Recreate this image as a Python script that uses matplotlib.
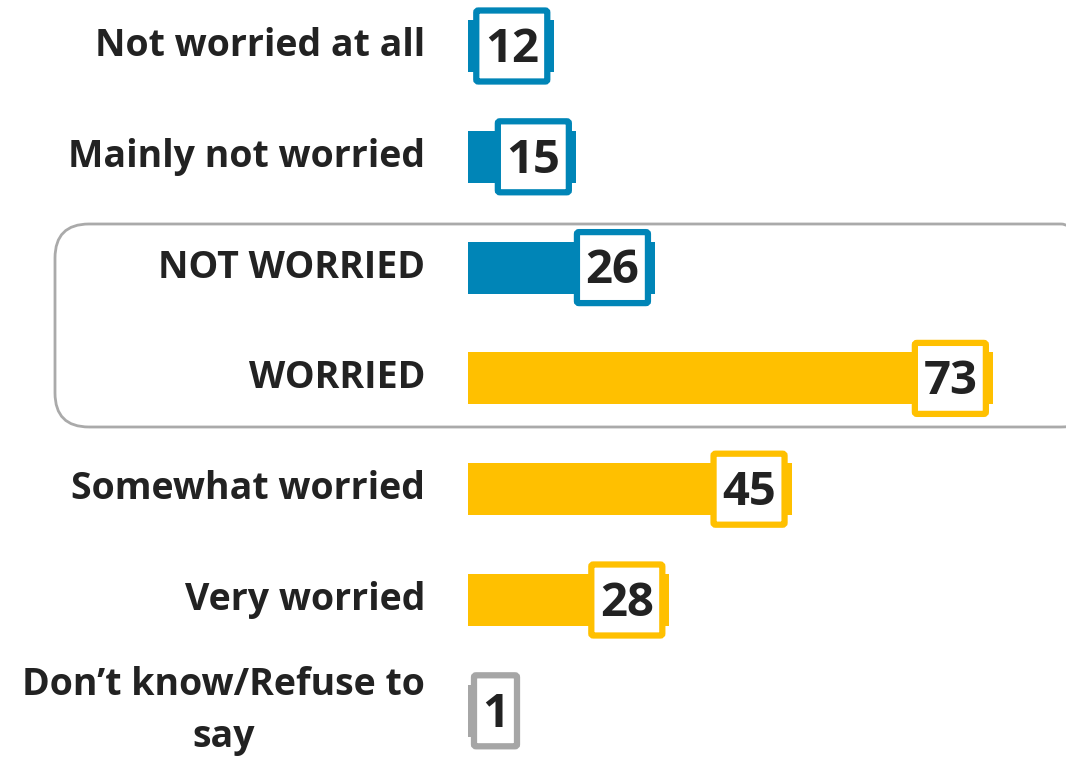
import matplotlib
matplotlib.use("Agg")
import matplotlib.pyplot as plt
from matplotlib.patches import FancyBboxPatch
from matplotlib.transforms import IdentityTransform

categories = ["Not worried at all", "Mainly not worried", "NOT WORRIED", "WORRIED",
              "Somewhat worried", "Very worried", "Don\u2019t know/Refuse to\nsay"]
values = [12, 15, 26, 73, 45, 28, 1]
colors = ["#0085B7", "#0085B7", "#0085B7", "#FFC000", "#FFC000", "#FFC000", "#A6A6A6"]
labels = [str(v) for v in values]

W, H, DPI = 1066, 758, 100
fig = plt.figure(figsize=(W / DPI, H / DPI), dpi=DPI)
plt.rcParams['font.family'] = ['Open Sans', 'DejaVu Sans']

x0_px = 468
px_per_unit = 7.19
row_px = 110.8
top_px = 46
ax = fig.add_axes([x0_px / W, 0, 1 - x0_px / W, 1])
ax.set_xlim(0, (W - x0_px) / px_per_unit)
ax.set_ylim((H - top_px) / row_px, -top_px / row_px)
ax.axis("off")

ypos = list(range(len(categories)))
ax.barh(ypos, values, height=52 / row_px, color=colors, zorder=2)

# rounded frame around the totals
frame = FancyBboxPatch((55, H - 427), 1040, 203, boxstyle="round,pad=0,rounding_size=34",
                       transform=IdentityTransform(), facecolor="none",
                       edgecolor="#AAAAAA", linewidth=2, zorder=1)
fig.patches.append(frame)

box_h = 71 / row_px
for y, v, c, lab, cat in zip(ypos, values, colors, labels, categories):
    ax.text(-43 / px_per_unit, y, cat, ha="right", va="center", multialignment="center",
            fontsize=27, fontweight="bold", color="#222222", linespacing=1.5)
    wpx = 43 if len(lab) == 1 else 71
    w = wpx / px_per_unit
    right = v - 7 / px_per_unit
    left = right - w
    if left < 6 / px_per_unit:
        left = 6 / px_per_unit
    box = FancyBboxPatch((left, y - box_h / 2), w, box_h,
                         boxstyle="round,pad=0,rounding_size=0.3",
                         mutation_aspect=0.06,
                         facecolor="white", edgecolor=c, linewidth=4.5, zorder=3)
    ax.add_patch(box)
    ax.text(left + w / 2, y + 0.03, lab, ha="center", va="center", fontsize=34,
            fontweight="bold", color="#222222", zorder=4)

fig.savefig("out.png", dpi=DPI)
